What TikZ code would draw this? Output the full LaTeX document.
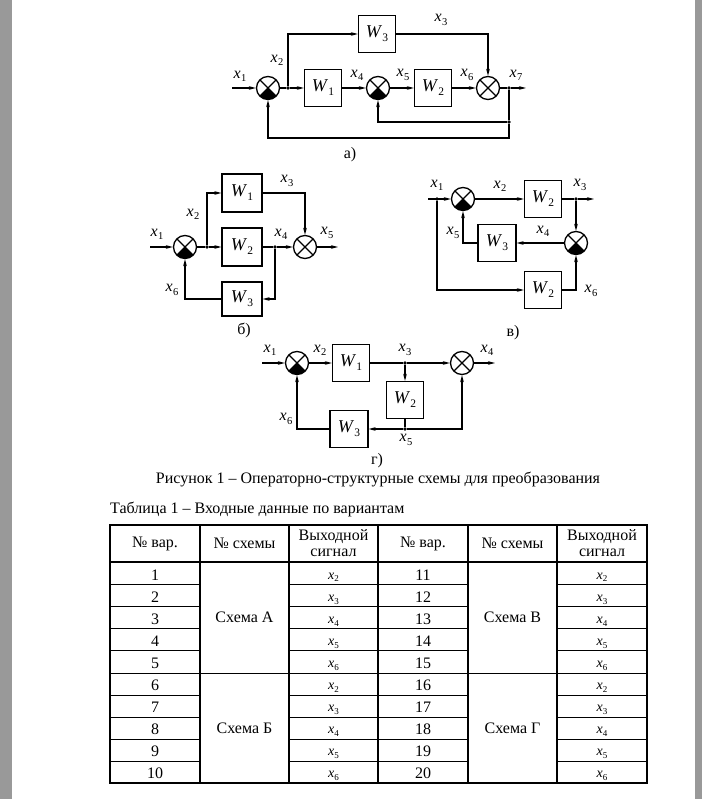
\documentclass[tikz,border=0pt]{standalone}
\usepackage{fontspec}
\setmainfont{Liberation Serif}
\usetikzlibrary{arrows.meta}
\newcommand\xv[1]{\textit{x}\kern0.2pt\raisebox{-0.45ex}{\fontsize{10.5}{11}\selectfont #1}}
\newcommand\xt[1]{\textit{x}\kern0.2pt\raisebox{-0.45ex}{\fontsize{9}{10}\selectfont #1}}
\newcommand\wv[1]{\textit{W}\kern0.3pt\raisebox{-0.5ex}{\fontsize{11.5}{12}\selectfont #1}}
\tikzset{
  ln/.style={line width=1.3pt},
  arr/.style={line width=1.3pt, -{Stealth[length=7pt,width=3.6pt]}},
  blk/.style={draw, line width=1.2pt, minimum width=37pt, minimum height=37pt, inner sep=0pt, font=\fontsize{18}{20}\selectfont},
  sum/.style={circle, draw, line width=1.3pt, minimum size=23pt, inner sep=0pt,
    path picture={\draw[line width=1.1pt] (path picture bounding box.center) +(45:14pt) -- +(225:14pt) +(135:14pt) -- +(315:14pt);}},
  sumf/.style={circle, draw, line width=1.3pt, minimum size=23pt, inner sep=0pt,
    path picture={\fill (path picture bounding box.center) -- +(225:20pt) -- +(315:20pt) -- cycle;
      \draw[line width=1.1pt] (path picture bounding box.center) +(45:14pt) -- +(225:14pt) +(135:14pt) -- +(315:14pt);}},
  dot/.style={circle, fill, inner sep=0pt, minimum size=3.6pt},
  lbl/.style={font=\fontsize{16}{18}\selectfont, inner sep=0pt},
  captxt/.style={font=\fontsize{16}{18}\selectfont, inner sep=0pt},
  cell/.style={font=\fontsize{16}{18}\selectfont, inner sep=0pt, align=center},
  xcell/.style={font=\fontsize{14}{16}\selectfont, inner sep=0pt, anchor=base},
  tline/.style={line width=1.2pt},
}
\begin{document}
\begin{tikzpicture}[x=1pt,y=-1pt]
\useasboundingbox (0,0) rectangle (702,799);
\fill[white] (0,0) rectangle (702,799);
\fill[black!40] (0,0) rectangle (12,799);
\fill[black!40] (695,0) rectangle (702,799);

% ---------------- diagram a
\coordinate (ina) at (232,88);
\node[sumf] (s1a) at (268,88) {};
\node[dot] (d1a) at (288,88) {};
\node[blk] (W1a) at (323,88) {\wv{1}};
\node[sumf] (s2a) at (378,88) {};
\node[blk] (W2a) at (433,88) {\wv{2}};
\node[sum] (s3a) at (488,88) {};
\node[dot] (d2a) at (509,88) {};
\coordinate (outa) at (526,88);
\node[blk] (W3a) at (377,34) {\wv{3}};
\node[dot] (d3a) at (509,122) {};
\coordinate (c1a) at (509,138);
\coordinate (c2a) at (268,138);
\draw[arr] (ina) -- (s1a);
\draw[ln] (s1a) -- (d1a);
\draw[arr] (d1a) -- (W1a);
\draw[arr] (W1a) -- (s2a);
\draw[arr] (s2a) -- (W2a);
\draw[arr] (W2a) -- (s3a);
\draw[ln] (s3a) -- (d2a);
\draw[arr] (d2a) -- (outa);
\draw[arr] (d1a) |- (W3a);
\draw[arr] (W3a) -| (s3a);
\draw[ln] (d2a) -- (d3a);
\draw[arr] (d3a) -| (s2a);
\draw[arr] (d3a) -- (c1a) -- (c2a) -- (s1a);
\node[lbl] (la1) at (240,76) {\xv{1}};
\node[lbl] (la2) at (277,60) {\xv{2}};
\node[lbl] (la3) at (441,20) {\xv{3}};
\node[lbl] (la4) at (357,75) {\xv{4}};
\node[lbl] (la5) at (403,75) {\xv{5}};
\node[lbl] (la6) at (467,75) {\xv{6}};
\node[lbl] (la7) at (516,75) {\xv{7}};
\node[captxt] (capa) at (350,155) {а)};

% ---------------- diagram b
\coordinate (inb) at (150,247);
\node[sumf] (s1b) at (185,247) {};
\node[dot] (d1b) at (207,247) {};
\node[blk, minimum width=40pt, minimum height=38pt] (W1b) at (242,193) {\wv{1}};
\node[blk, minimum width=40pt, minimum height=38pt] (W2b) at (242,247) {\wv{2}};
\node[dot] (d2b) at (275,247) {};
\node[sum] (s2b) at (305,247) {};
\coordinate (outb) at (338,247);
\node[blk, minimum width=40pt, minimum height=34pt] (W3b) at (242,299) {\wv{3}};
\coordinate (c1b) at (275,299);
\draw[arr] (inb) -- (s1b);
\draw[ln] (s1b) -- (d1b);
\draw[arr] (d1b) -- (W2b);
\draw[arr] (d1b) |- (W1b);
\draw[arr] (W1b) -| (s2b);
\draw[ln] (W2b) -- (d2b);
\draw[arr] (d2b) -- (s2b);
\draw[arr] (s2b) -- (outb);
\draw[arr] (d2b) -- (c1b) -- (W3b);
\draw[arr] (W3b) -| (s1b);
\node[lbl] (lb1) at (157,234) {\xv{1}};
\node[lbl] (lb2) at (193,214) {\xv{2}};
\node[lbl] (lb3) at (287,181) {\xv{3}};
\node[lbl] (lb4) at (281,234) {\xv{4}};
\node[lbl] (lb5) at (327,233) {\xv{5}};
\node[lbl] (lb6) at (172,290) {\xv{6}};
\node[captxt] (capb) at (244,330) {б)};

% ---------------- diagram v
\coordinate (inv) at (428,199);
\node[dot] (d1v) at (437,199) {};
\node[sumf] (s1v) at (463,199) {};
\node[blk] (W2v) at (543,199) {\wv{2}};
\node[dot] (d2v) at (576,199) {};
\coordinate (outv) at (594,199);
\node[sumf] (s2v) at (576,243) {};
\node[blk, minimum width=38pt] (W3v) at (497,243) {\wv{3}};
\node[blk] (W4v) at (543,290) {\wv{2}};
\coordinate (c1v) at (437,290);
\draw[arr] (inv) -- (s1v);
\draw[arr] (s1v) -- (W2v);
\draw[ln] (W2v) -- (d2v);
\draw[arr] (d2v) -- (outv);
\draw[arr] (d2v) -- (s2v);
\draw[arr] (s2v) -- (W3v);
\draw[arr] (W3v) -| (s1v);
\draw[arr] (d1v) -- (c1v) -- (W4v);
\draw[arr] (W4v) -| (s2v);
\node[lbl] (lv1) at (437,185) {\xv{1}};
\node[lbl] (lv2) at (500,186) {\xv{2}};
\node[lbl] (lv3) at (580,185) {\xv{3}};
\node[lbl] (lv4) at (543,231) {\xv{4}};
\node[lbl] (lv5) at (453,233) {\xv{5}};
\node[lbl] (lv6) at (591,291) {\xv{6}};
\node[captxt] (capv) at (513,333) {в)};

% ---------------- diagram g
\coordinate (ing) at (262,363);
\node[sumf] (s1g) at (297,363) {};
\node[blk] (W1g) at (351,363) {\wv{1}};
\node[dot] (d1g) at (405,363) {};
\node[sum] (s2g) at (462,363) {};
\coordinate (outg) at (495,363);
\node[blk] (W2g) at (405,400) {\wv{2}};
\node[dot] (d2g) at (405,429) {};
\node[blk, minimum width=38pt] (W3g) at (349,429) {\wv{3}};
\draw[arr] (ing) -- (s1g);
\draw[arr] (s1g) -- (W1g);
\draw[ln] (W1g) -- (d1g);
\draw[arr] (d1g) -- (s2g);
\draw[arr] (s2g) -- (outg);
\draw[arr] (d1g) -- (W2g);
\draw[ln] (W2g) -- (d2g);
\draw[arr] (d2g) -| (s2g);
\draw[arr] (d2g) -- (W3g);
\draw[arr] (W3g) -| (s1g);
\node[lbl] (lg1) at (270,350) {\xv{1}};
\node[lbl] (lg2) at (320,350) {\xv{2}};
\node[lbl] (lg3) at (405,350) {\xv{3}};
\node[lbl] (lg4) at (487,350) {\xv{4}};
\node[lbl] (lg5) at (406,440) {\xv{5}};
\node[lbl] (lg6) at (286,419) {\xv{6}};
\node[captxt] (capg) at (377,461) {г)};

% ---------------- captions
\node[captxt] (fig) at (378,479) {Рисунок 1 – Операторно-структурные схемы для преобразования};
\node[captxt, anchor=west] (tab) at (110,509) {Таблица 1 – Входные данные по вариантам};

% ---------------- table
\draw[tline] (110,525) rectangle (647,783);
\foreach \xx in {200,289,378,468,557} \draw[tline] (\xx,525) -- (\xx,783);
\draw[tline] (110,562) -- (647,562);
\draw[tline] (110,673.2) -- (647,673.2);
\foreach \yy in {584.2,606.4,628.6,650.8,695.2,717.2,739.2,761.2}
  \draw[tline] (110,\yy) -- (200,\yy) (289,\yy) -- (468,\yy) (557,\yy) -- (647,\yy);
\node[cell] (h1) at (155,543.5) {№ вар.};
\node[cell] (h2) at (244.5,543.5) {№ схемы};
\node[cell] (h3) at (333.5,543.5) {Выходной\\[-2pt]сигнал};
\node[cell] (h4) at (423,543.5) {№ вар.};
\node[cell] (h5) at (512.5,543.5) {№ схемы};
\node[cell] (h6) at (602,543.5) {Выходной\\[-2pt]сигнал};
\foreach \i in {1,...,10} {
  \pgfmathsetmacro\yc{562+22.1*(\i-0.5)}
  \pgfmathsetmacro\yb{\yc+7}
  \pgfmathsetmacro\yx{\yc+6}
  \pgfmathtruncatemacro\j{\i+10}
  \pgfmathtruncatemacro\k{mod(\i-1,5)+2}
  \node[cell, anchor=base] (a\i) at (155,\yb) {\i};
  \node[cell, anchor=base] (b\i) at (423,\yb) {\j};
  \node[xcell] (c\i) at (333.5,\yx) {\xt{\k}};
  \node[xcell] (e\i) at (602,\yx) {\xt{\k}};
}
\node[cell] (sa) at (244.5,617.6) {Схема А};
\node[cell] (sb) at (244.5,728.6) {Схема Б};
\node[cell] (sv) at (512.5,617.6) {Схема В};
\node[cell] (sg) at (512.5,728.6) {Схема Г};
\end{tikzpicture}
\end{document}
